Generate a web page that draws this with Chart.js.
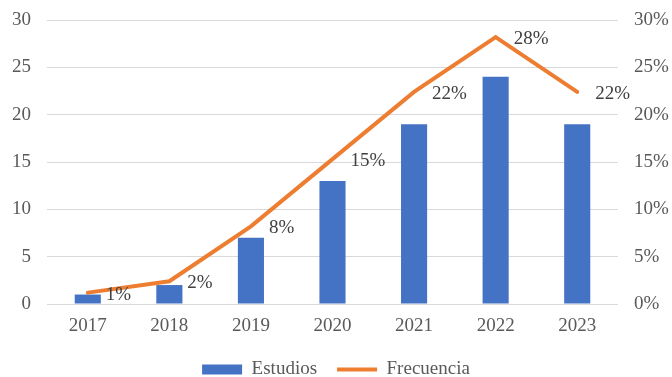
<!DOCTYPE html>
<html>
<head>
<meta charset="utf-8">
<script src="https://cdn.jsdelivr.net/npm/chart.js@4/dist/chart.umd.min.js"></script>
<style>
html,body{margin:0;padding:0;background:#fff;}
#wrap{width:672px;height:377px;position:relative;}
</style>
</head>
<body>
<div id="wrap"><canvas id="c"></canvas></div>
<script>
const categories = ['2017','2018','2019','2020','2021','2022','2023'];
const estudios = [1, 2, 7, 13, 19, 24, 19];
const frecuencia = [1.2, 2.4, 8.2, 15.3, 22.4, 28.2, 22.4];
const frecuenciaLabels = ['1%','2%','8%','15%','22%','28%','22%'];
const leftTicks = [0, 5, 10, 15, 20, 25, 30];
const rightTicks = [0, 5, 10, 15, 20, 25, 30];

const FONT = '"Liberation Serif", "Times New Roman", serif';
const FS = 19;

const labelPlugin = {
  id: 'pctLabels',
  afterDatasetsDraw(chart) {
    const meta = chart.getDatasetMeta(1);
    const ctx = chart.ctx;
    ctx.save();
    ctx.font = FS + 'px ' + FONT;
    ctx.fillStyle = '#404040';
    ctx.textAlign = 'left';
    ctx.textBaseline = 'middle';
    meta.data.forEach((pt, i) => {
      ctx.fillText(frecuenciaLabels[i], pt.x + 18, pt.y + 2);
    });
    ctx.restore();
  }
};

new Chart(document.getElementById('c'), {
  data: {
    labels: categories,
    datasets: [
      {
        type: 'bar',
        label: 'Estudios',
        data: estudios,
        backgroundColor: '#4472C4',
        borderWidth: 0,
        yAxisID: 'y',
        order: 1,
        barPercentage: 0.32,
        categoryPercentage: 1
      },
      {
        type: 'line',
        label: 'Frecuencia',
        data: frecuencia,
        borderColor: '#ED7D31',
        backgroundColor: '#ED7D31',
        borderWidth: 4,
        pointRadius: 0,
        tension: 0,
        borderCapStyle: 'round',
        yAxisID: 'y1',
        order: 0
      }
    ]
  },
  options: {
    responsive: true,
    maintainAspectRatio: false,
    animation: false,
    layout: { padding: { top: 20, bottom: -12, left: 0, right: 0 } },
    plugins: {
      tooltip: { enabled: false },
      legend: {
        position: 'bottom',
        labels: {
          font: { family: FONT, size: FS },
          color: '#595959',
          usePointStyle: true,
          pointStyleWidth: 40,
          boxHeight: 10,
          padding: 20,
          sort: (a, b) => a.datasetIndex - b.datasetIndex,
          generateLabels(chart) {
            const items = Chart.defaults.plugins.legend.labels.generateLabels(chart);
            items.forEach(it => {
              if (it.datasetIndex === 0) {
                it.pointStyle = 'rect'; it.lineWidth = 0; it.fillStyle = '#4472C4'; it.strokeStyle = '#4472C4';
              } else {
                it.pointStyle = 'line'; it.lineWidth = 4; it.strokeStyle = '#ED7D31'; it.fillStyle = '#ED7D31';
              }
            });
            return items;
          }
        }
      }
    },
    scales: {
      x: {
        grid: { display: false, drawTicks: false },
        border: { display: false },
        ticks: { font: { family: FONT, size: FS }, color: '#595959', padding: 11 },
        afterFit(s) { s.height = 36; }
      },
      y: {
        position: 'left',
        min: 0, max: 30,
        afterBuildTicks(s) { s.ticks = leftTicks.map(v => ({ value: v })); },
        grid: { color: '#D9D9D9', lineWidth: 1, drawTicks: false },
        border: { display: false },
        ticks: { font: { family: FONT, size: FS }, color: '#595959', padding: 16 },
        afterFit(s) { s.width = 47; s.paddingTop = 10; s.paddingBottom = 10; }
      },
      y1: {
        position: 'right',
        min: 0, max: 30,
        afterBuildTicks(s) { s.ticks = rightTicks.map(v => ({ value: v })); },
        grid: { display: false, drawTicks: false },
        border: { display: false },
        ticks: { font: { family: FONT, size: FS }, color: '#595959', padding: 16, callback: v => v + '%' },
        afterFit(s) { s.width = 54; s.paddingTop = 10; s.paddingBottom = 10; }
      }
    }
  },
  plugins: [labelPlugin]
});
</script>
</body>
</html>
